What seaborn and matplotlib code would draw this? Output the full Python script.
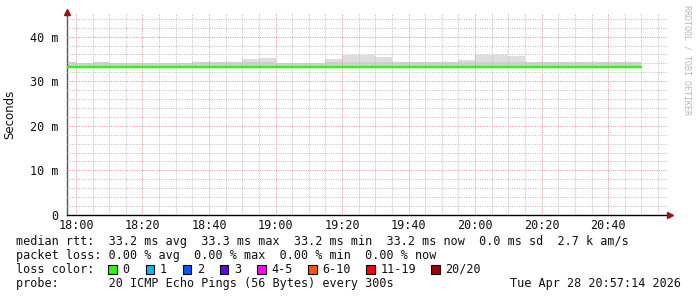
import numpy as np
import pandas as pd
import matplotlib
matplotlib.use("Agg")
import matplotlib.pyplot as plt
import seaborn as sns

# ---- data ----
# bin end times (5-minute steps), minutes after 18:00
bin_end_labels = ["18:00", "18:05", "18:10", "18:15", "18:20", "18:25", "18:30", "18:35",
                  "18:40", "18:45", "18:50", "18:55", "19:00", "19:05", "19:10", "19:15",
                  "19:20", "19:25", "19:30", "19:35", "19:40", "19:45", "19:50", "19:55",
                  "20:00", "20:05", "20:10", "20:15", "20:20", "20:25", "20:30", "20:35",
                  "20:40", "20:45", "20:50"]
median_ms = [33.2, 33.2, 33.2, 33.2, 33.2, 33.2, 33.2, 33.2, 33.2, 33.2, 33.2, 33.2,
             33.2, 33.2, 33.2, 33.2, 33.2, 33.3, 33.2, 33.2, 33.2, 33.2, 33.2, 33.2,
             33.2, 33.2, 33.2, 33.2, 33.2, 33.2, 33.2, 33.2, 33.2, 33.2, 33.2]
smoke_dense_ms = [34.3, 34.1, 34.3, 34.1, 34.1, 34.1, 34.1, 34.1, 34.3, 34.3, 34.3, 34.3,
                  34.3, 34.1, 34.1, 34.1, 34.3, 34.3, 34.3, 34.3, 34.3, 34.3, 34.3, 34.3,
                  34.3, 34.3, 34.3, 34.3, 34.3, 34.3, 34.3, 34.3, 34.3, 34.3, 34.3]
smoke_max_ms = [34.4, 34.0, 34.4, 34.0, 34.0, 34.0, 34.0, 34.0, 34.4, 34.4, 34.4, 35.05,
                35.3, 34.0, 34.0, 34.0, 35.0, 35.95, 35.95, 35.45, 34.3, 34.3, 34.3, 34.3,
                34.8, 35.95, 35.95, 35.75, 34.3, 34.3, 34.3, 34.3, 34.3, 34.3, 34.3]
x_tick_labels = ["18:00", "18:20", "18:40", "19:00", "19:20", "19:40", "20:00", "20:20", "20:40"]
y_tick_values = [0, 10, 20, 30, 40]
y_tick_labels = ["0", "10 m", "20 m", "30 m", "40 m"]
loss_labels = ["0", "1", "2", "3", "4-5", "6-10", "11-19", "20/20"]
loss_colors = ["#26ff00", "#00b8ff", "#0059ff", "#5e00ff", "#ff00ff", "#ff5500", "#ff0000", "#a10000"]

def to_min(s):
    h, m = s.split(":")
    return (int(h) - 18) * 60 + int(m)

ends = [to_min(s) for s in bin_end_labels]
xs = [ends[0] - 5] + ends
df = pd.DataFrame({
    "t": xs,
    "median": [median_ms[0]] + median_ms,
    "dense": [smoke_dense_ms[0]] + smoke_dense_ms,
    "top": [smoke_max_ms[0]] + smoke_max_ms,
})

sns.set_theme(style="white")
mono = "DejaVu Sans Mono"
plt.rcParams["font.family"] = ["DejaVu Sans Mono", "DejaVu Sans"]

W, H = 697, 297
fig = plt.figure(figsize=(W / 100, H / 100), dpi=100)
fig.patch.set_facecolor("white")
L, R, T, B = 67, 668, 13, 215
ax = fig.add_axes([L / W, 1 - B / H, (R - L) / W, (B - T) / H])
ax.set_facecolor("white")

# smoke
ax.fill_between(df["t"], df["median"], df["top"], step="pre", color="#dedede", lw=0, zorder=1)
ax.fill_between(df["t"], df["median"], df["dense"], step="pre", color="#d2d2d2", lw=0, zorder=1.1)
# median line
sns.lineplot(data=df, x="t", y="median", drawstyle="steps-pre", color="#22ff00",
             linewidth=1.7, ax=ax, zorder=3)

ax.set_xlim(-2.7, 178.0)
ax.set_ylim(0, 45.3)

ax.set_xticks([to_min(s) for s in x_tick_labels])
ax.set_xticklabels(x_tick_labels, fontsize=8.5, family=mono, color="#111111")
ax.set_xticks(np.arange(0, 180, 5), minor=True)
ax.set_yticks(y_tick_values)
ax.set_yticklabels(y_tick_labels, fontsize=8.5, family=mono, color="#111111")
ax.set_yticks(np.arange(0, 46, 2), minor=True)
ax.tick_params(axis="both", which="both", length=0)
ax.tick_params(axis="x", pad=3)
ax.tick_params(axis="y", pad=6)
ax.set_xlabel("")
ax.set_ylabel("")

ax.set_axisbelow(False)
ax.grid(True, which="minor", color="#c4c4c4", linestyle=(0, (1, 1.2)), linewidth=0.75, zorder=2)
ax.grid(True, which="major", color="#e6a0a0", linestyle=(0, (1, 1.2)), linewidth=0.75, zorder=2.1)

for s in ["top", "right"]:
    ax.spines[s].set_visible(False)
ax.spines["left"].set_color("#555555")
ax.spines["left"].set_linewidth(1.0)
ax.spines["bottom"].set_color("#000000")
ax.spines["bottom"].set_linewidth(1.0)
ax.spines["bottom"].set_bounds(-2.7, 178.6)

# arrows
ax.plot([0], [1.005], marker="^", color="#a01010", markersize=5, transform=ax.transAxes, clip_on=False, zorder=5)
ax.plot([1.004], [0], marker=">", color="#a01010", markersize=5, transform=ax.transAxes, clip_on=False, zorder=5)

# y label
fig.text(10 / W, 1 - 114 / H, "Seconds", rotation=90, ha="center", va="center",
         fontsize=8.5, family="DejaVu Sans", color="#111111")
# watermark
fig.text(687 / W, 1 - 5 / H, "RRDTOOL / TOBI OETIKER", rotation=270, ha="center", va="top",
         fontsize=6, family=mono, color="#b8b8b8")

# legend text
fs = 8.5
def row(y, s):
    fig.text(16 / W, 1 - y / H, s, ha="left", va="center", fontsize=fs, family=mono, color="#111111")

row(241, "median rtt:  33.2 ms avg  33.3 ms max  33.2 ms min  33.2 ms now  0.0 ms sd  2.7 k am/s")
row(256, "packet loss: 0.00 % avg  0.00 % max  0.00 % min  0.00 % now")
row(269.5, "loss color:")
row(284, "probe:       20 ICMP Echo Pings (56 Bytes) every 300s")
fig.text(681 / W, 1 - 284 / H, "Tue Apr 28 20:57:14 2026", ha="right", va="center", fontsize=fs,
         family=mono, color="#111111")

box_x = [108, 145.5, 182.5, 220, 257, 308, 366, 431]
for bx, lab, col in zip(box_x, loss_labels, loss_colors):
    fig.patches.append(plt.Rectangle((bx / W, 1 - 274 / H), 8.5 / W, 9 / H, transform=fig.transFigure,
                                     facecolor=col, edgecolor="black", linewidth=0.8))
    fig.text((bx + 14.5) / W, 1 - 269.5 / H, lab, ha="left", va="center", fontsize=fs, family=mono,
             color="#111111")

fig.savefig("out.png", dpi=100)
